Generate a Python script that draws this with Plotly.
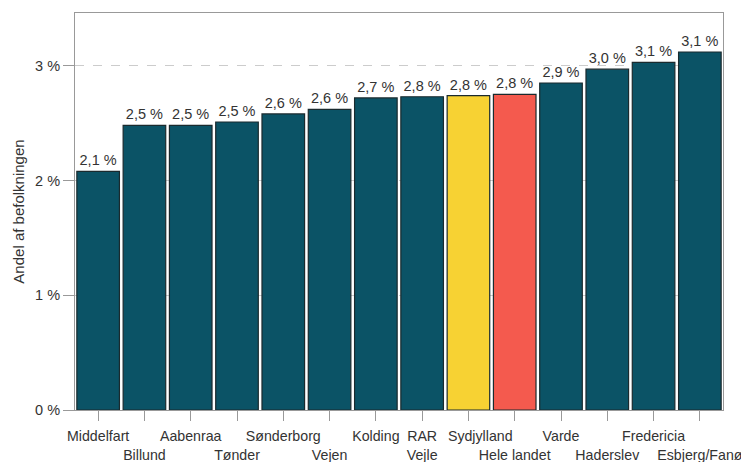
import plotly.graph_objects as go

categories = ["Middelfart", "Billund", "Aabenraa", "Tønder", "Sønderborg", "Vejen",
              "Kolding", "RAR Vejle", "Sydjylland", "Hele landet", "Varde",
              "Haderslev", "Fredericia", "Esbjerg/Fanø"]
values = [2.08, 2.48, 2.48, 2.51, 2.58, 2.62, 2.72, 2.73, 2.74, 2.75, 2.85, 2.97, 3.03, 3.12]
value_labels = ["2,1 %", "2,5 %", "2,5 %", "2,5 %", "2,6 %", "2,6 %", "2,7 %", "2,8 %",
                "2,8 %", "2,8 %", "2,9 %", "3,0 %", "3,1 %", "3,1 %"]
tick_texts = ["Middelfart", "<br>Billund", "Aabenraa", "<br>Tønder", "Sønderborg",
              "<br>Vejen", "Kolding", "RAR<br>Vejle",
              "\u00a0\u00a0\u00a0\u00a0\u00a0\u00a0Sydjylland", "<br>Hele landet",
              "Varde", "<br>Haderslev", "Fredericia", "<br>Esbjerg/Fanø"]
y_ticks = [0, 1, 2, 3]
y_tick_labels = ["0 %", "1 %", "2 %", "3 %"]

teal = "#0b5366"
colors = [teal] * len(categories)
colors[categories.index("Sydjylland")] = "#f7d233"
colors[categories.index("Hele landet")] = "#f45a4e"

x = list(range(len(categories)))
FS = 14.2

fig = go.Figure(go.Bar(
    x=x, y=values, text=value_labels, textposition="outside",
    textfont=dict(size=14.5, color="#333333"), cliponaxis=False,
    marker=dict(color=colors, line=dict(color="#1a2a2e", width=1.2)),
))

fig.update_layout(
    width=741, height=462,
    margin=dict(l=75, r=18, t=13, b=52),
    paper_bgcolor="white", plot_bgcolor="white",
    font=dict(family="Liberation Sans, Arial, sans-serif", size=FS, color="#333333"),
    bargap=0.08, showlegend=False,
)
fig.update_xaxes(
    tickmode="array", tickvals=x, ticktext=tick_texts, tickangle=0,
    range=[-0.5, len(categories) - 0.5], automargin=False,
    ticklabeloverflow="allow", ticklabelstandoff=3,
    ticks="outside", ticklen=10, tickcolor="#999999",
    showline=True, linecolor="#999999", mirror=True, showgrid=False,
    tickfont=dict(size=FS, color="#333333"),
)
fig.update_yaxes(
    tickmode="array", tickvals=y_ticks, ticktext=y_tick_labels,
    range=[0, 3.46], automargin=False,
    ticks="outside", ticklen=11, tickcolor="#999999",
    showline=True, linecolor="#999999", mirror=True,
    showgrid=True, gridcolor="#cccccc", griddash="dash", gridwidth=1,
    zeroline=False,
    title=dict(text="Andel af befolkningen", font=dict(size=15), standoff=6),
    tickfont=dict(size=14.5, color="#333333"),
)

fig.write_html("out.html", config={"displayModeBar": False},
               post_script="document.body.style.margin='0';")
